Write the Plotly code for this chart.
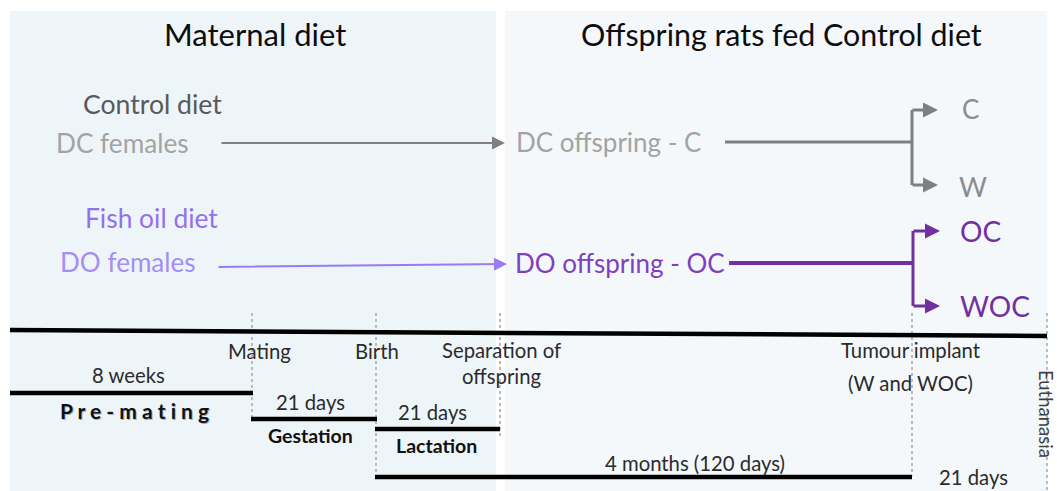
import plotly.graph_objects as go

# ---- data (text content of the diagram) ----
panel_titles = ["Maternal diet", "Offspring rats fed Control diet"]
diet_labels = ["Control diet", "Fish oil diet"]
mother_groups = ["DC females", "DO females"]
offspring_groups = ["DC offspring - C", "DO offspring - OC"]
final_groups_control = ["C", "W"]
final_groups_fish = ["OC", "WOC"]
events = ["Mating", "Birth", "Separation of<br>offspring", "Tumour implant", "(W and WOC)"]
durations = ["8 weeks", "21 days", "21 days", "4 months (120 days)", "21 days"]
phases = ["P r e - m a t i n g", "Gestation", "Lactation"]
end_event = "Euthanasia"

# ---- layout constants (pixel-like coordinates) ----
W, H = 1057, 491
FONT = "Lato"
GRAY_TXT = "#a3a3a3"
GRAY_LINE = "#7f7f7f"
PURPLE_LIGHT = "#9b7bf2"
PURPLE = "#7030a0"
TL = "#2b2b2b"
TS = 20.3  # timeline font size

fig = go.Figure()
shapes = []
ann = []

def rect(x0, y0, x1, y1, color):
    shapes.append(dict(type="rect", xref="x", yref="y", x0=x0, y0=y0, x1=x1, y1=y1,
                       fillcolor=color, line=dict(width=0), layer="below"))

def line(x0, y0, x1, y1, color, width, dash=None):
    d = dict(color=color, width=width)
    if dash:
        d["dash"] = dash
    shapes.append(dict(type="line", xref="x", yref="y", x0=x0, y0=y0, x1=x1, y1=y1, line=d))

def text(x, y, s, size, color, bold=False, angle=0, anchor="center"):
    ann.append(dict(x=x, y=y, xref="x", yref="y", text=("<b>%s</b>" % s) if bold else s,
                    showarrow=False, font=dict(family=FONT, size=size, color=color),
                    xanchor=anchor, yanchor="middle", textangle=angle))

def arrow(x0, y0, x1, y1, color, width, size=1.0):
    ann.append(dict(x=x1, y=y1, ax=x0, ay=y0, xref="x", yref="y", axref="x", ayref="y",
                    text="", showarrow=True, arrowhead=2, arrowsize=size, arrowwidth=width,
                    arrowcolor=color))

# panels
rect(10, 11, 496, H, "#eef5f9")
rect(505, 11, 1047, H, "#f4f8fb")

# titles
text(255, 34, panel_titles[0], 31, "#0d0d0d")
text(781, 34, panel_titles[1], 30.4, "#0d0d0d")

# control diet branch
text(152, 104, diet_labels[0], 26.6, "#595959")
text(122, 143, mother_groups[0], 26.2, GRAY_TXT)
arrow(220, 143, 505, 143, GRAY_LINE, 2, 1.3)
text(514, 142, offspring_groups[0], 26, GRAY_TXT, anchor="left")
line(725, 142, 912, 142, GRAY_LINE, 3)
line(912, 110, 912, 185, GRAY_LINE, 3)
arrow(911, 110, 938, 110, GRAY_LINE, 3, 1.0)
arrow(911, 185, 938, 185, GRAY_LINE, 3, 1.0)
text(960, 109, final_groups_control[0], 26, "#8c8c8c", anchor="left")
text(957, 186, final_groups_control[1], 27, "#8c8c8c", anchor="left")

# fish oil diet branch
text(151, 218, diet_labels[1], 26.4, "#9370ee")
text(128, 262, mother_groups[1], 26.1, "#a68cf5")
arrow(217, 267, 507, 264, PURPLE_LIGHT, 2, 1.3)
text(513, 263, offspring_groups[1], 26, "#7f3fbf", anchor="left")
line(729, 263, 913, 263, PURPLE, 4)
line(913, 231, 913, 306, PURPLE, 3)
arrow(912, 231, 940, 231, PURPLE, 3, 1.0)
arrow(912, 306, 940, 306, PURPLE, 3, 1.0)
text(958, 231, final_groups_fish[0], 28, PURPLE, anchor="left")
text(958, 306, final_groups_fish[1], 28, PURPLE, anchor="left")

# timeline: dotted markers
for x, y1 in [(252, 418), (376, 478), (500, 436), (912, 476), (1047, 491)]:
    line(x, 313, x, y1, "#a6a6a6", 1.5, "dot")

# main timeline bar
line(10, 330, 1047, 336, "#000000", 4.5)

# event labels
text(259, 351, events[0], TS, TL)
text(377, 351, events[1], TS, TL)
text(501, 363, events[2], TS, TL)
text(911, 350, events[3], TS, TL)
text(910, 383, events[4], TS, TL)

# phase bars
line(10, 393, 253, 393, "#000000", 4.5)
line(251, 419, 377, 419, "#000000", 4.5)
line(375, 429, 500, 429, "#000000", 4.5)
line(375, 477, 912, 477, "#000000", 4.5)

# durations
text(128, 375, durations[0], TS, TL)
text(310, 402, durations[1], TS, TL)
text(432, 412, durations[2], TS, TL)
text(695, 463, durations[3], TS, TL)
text(973, 477, durations[4], TS, TL)

# phase names (with slight shadow for Pre-mating)
text(135.5, 411.5, phases[0], 21, "#b0b0b0", bold=True)
text(134, 410, phases[0], 21, "#111111", bold=True)
text(310, 435, phases[1], 19.5, "#111111", bold=True)
text(436, 445, phases[2], 19.5, "#111111", bold=True)

# euthanasia
text(1046, 414, end_event, 18.5, "#404040", angle=90)

fig.update_layout(
    width=W, height=H,
    margin=dict(l=0, r=0, t=0, b=0),
    paper_bgcolor="white", plot_bgcolor="white",
    xaxis=dict(range=[0, W], visible=False, fixedrange=True),
    yaxis=dict(range=[H, 0], visible=False, fixedrange=True),
    shapes=shapes, annotations=ann, showlegend=False,
)
fig.write_html("out.html", config={"displayModeBar": False},
               post_script="document.body.style.margin='0';document.body.style.overflow='hidden';")
